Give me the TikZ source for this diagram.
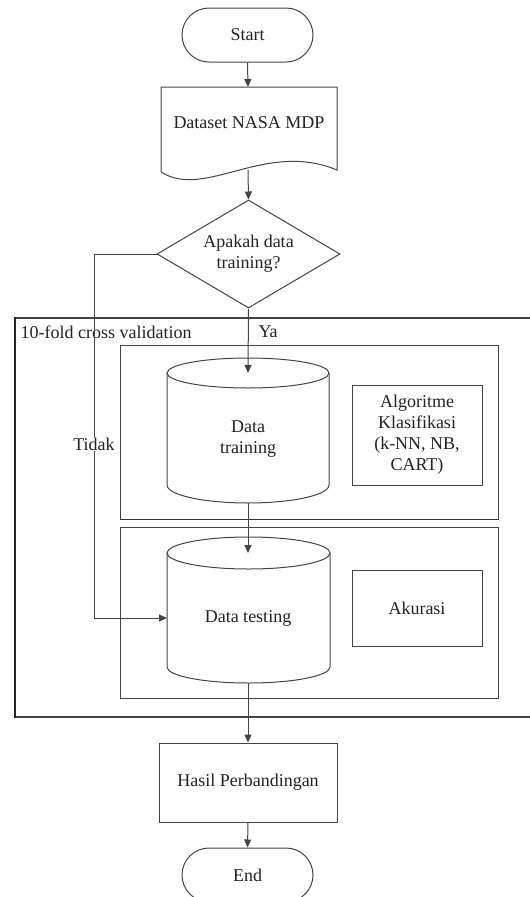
\documentclass[tikz,border=0pt]{standalone}
\usepackage{fontspec}
\setmainfont{Liberation Serif}
\usetikzlibrary{shapes.geometric,shapes.misc,arrows.meta,calc}
\definecolor{linec}{HTML}{444444}
\definecolor{textc}{HTML}{222222}
\begin{document}
\begin{tikzpicture}[x=1pt,y=-1pt,
  lbl/.style={font=\fontsize{18}{21}\selectfont, text=textc, align=center},
  ink/.style={draw=linec, line width=1pt},
  box/.style={ink, rectangle, inner sep=0pt, lbl},
  term/.style={ink, rounded rectangle, minimum width=131pt, minimum height=54pt, inner sep=0pt, lbl},
  arr/.style={draw=linec, line width=1pt, -{Triangle[length=8pt,width=7pt]}}]
\useasboundingbox (0,0) rectangle (530,897);
\clip (0,0) rectangle (530,897);

% terminals
\node[term] (start) at (247.5,35) {Start};
\node[term] (end) at (247.5,875) {End};

% document shape for the data set
\draw[ink] (161,172) -- (161,87) -- (337,87) -- (337,170)
  .. controls (265,140) and (205,200) .. cycle;
\node[lbl] (dataset) at (249,123) {Dataset NASA MDP};
\coordinate (doctop) at (248,87);
\coordinate (docbot) at (248,170);

% decision
\node[ink, diamond, aspect=1.7, minimum width=183pt, minimum height=108pt,
      inner sep=0pt, lbl] (dec) at (248.5,254) {Apakah data\\training?};

% cross validation frame
\draw[draw=linec, line width=1.3pt] (15,318) -- (535,318) (535,717) -- (15,717);
\draw[draw=black!85, line width=2.5pt] (15,317.4) -- (15,717.6);
\node[lbl, anchor=west] (cvlabel) at (17,332) {10-fold cross validation};
\node[box, minimum width=378pt, minimum height=174pt] (trainbox) at (309,432) {};
\node[box, minimum width=378pt, minimum height=171pt] (testbox) at (309,612.5) {};
\draw[draw=black!80, line width=1.6pt] (trainbox.south west) -- (trainbox.south east);

% training data store
\draw[ink, fill=white] (248,373) ellipse [x radius=81pt, y radius=15pt];
\draw[ink] (167,373) -- (167,485) arc[start angle=180, end angle=360, x radius=81pt, y radius=18pt] -- (329,373);
\node[lbl] (dtrain) at (248,439) {Data\\training};
\coordinate (dtraintop) at (248,373);
\coordinate (dtrainbot) at (248,503);

% testing data store
\draw[ink, fill=white] (248.5,553) ellipse [x radius=81.5pt, y radius=16pt];
\draw[ink] (167,553) -- (167,667) arc[start angle=180, end angle=360, x radius=81.5pt, y radius=16pt] -- (330,553);
\node[lbl] (dtest) at (248,618) {Data testing};
\coordinate (dtesttop) at (248,553);
\coordinate (dtestleft) at (167,618);
\coordinate (dtestbot) at (248,683);

% side boxes
\node[box, draw, minimum width=130pt, minimum height=100pt] (algo) at (417,435)
  {Algoritme\\Klasifikasi\\(k-NN, NB,\\CART)};
\node[box, draw, minimum width=130pt, minimum height=76pt] (akurasi) at (417,608) {Akurasi};

% result
\node[box, draw, minimum width=178pt, minimum height=79pt] (hasil) at (248,782.5) {Hasil Perbandingan};

% connectors
\coordinate (tcorner) at (94,618);
\draw[arr] (start.south) -- (doctop);
\draw[arr] (docbot) -- (dec.north);
\draw[arr] (dec.south) -- (dtraintop);
\draw[arr] (dtrainbot) -- (dtesttop);
\draw[arr] (dec.west) -| (tcorner) -- (dtestleft);
\draw[arr] (dtestbot) -- (hasil.north);
\draw[arr] (hasil.south) -- (end.north);

% branch labels
\node[lbl, anchor=west] (ya) at (255,332) {Ya};
\node[lbl, fill=white, inner sep=1pt] (tidak) at (94,444) {Tidak};
\end{tikzpicture}
\end{document}
